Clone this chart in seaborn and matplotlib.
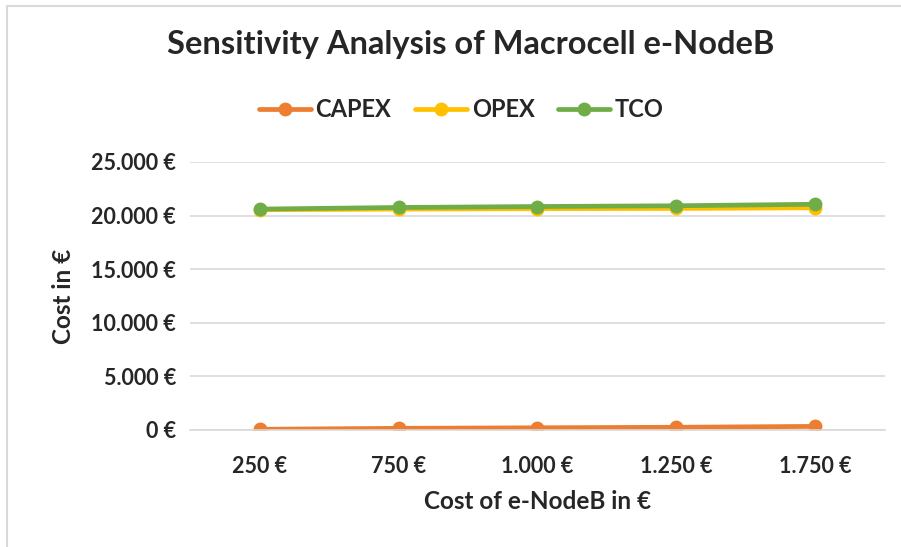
import pandas as pd
import matplotlib.pyplot as plt
import matplotlib.ticker as mticker
from matplotlib.lines import Line2D
import seaborn as sns

# data
enodeb_cost = ['250 €', '750 €', '1.000 €', '1.250 €', '1.750 €']
capex = [60, 150, 200, 250, 330]
opex = [20540, 20600, 20640, 20660, 20720]
tco = [20600, 20750, 20840, 20910, 21050]

series_names = ['CAPEX', 'OPEX', 'TCO']
colors = ['#ED7D31', '#FFC000', '#70AD47']

df = pd.DataFrame({
    'cost': enodeb_cost * 3,
    'value': capex + opex + tco,
    'series': [s for s in series_names for _ in enodeb_cost],
})

sns.set_style('white')
plt.rcParams['font.family'] = ['Lato', 'DejaVu Sans']
plt.rcParams['font.weight'] = 'bold'

fig = plt.figure(figsize=(9.01, 5.47), dpi=100)
ax = fig.add_axes([0.211, 0.214, 0.771, 0.490])

sns.lineplot(data=df, x='cost', y='value', hue='series', hue_order=series_names,
             palette=colors, marker='o', markersize=10, linewidth=3.4,
             markeredgewidth=0, sort=False, ax=ax)

ax.set_xlim(-0.5, 4.5)
ax.set_ylim(0, 25000)
ax.set_yticks(range(0, 25001, 5000))
ax.yaxis.set_major_formatter(mticker.FuncFormatter(
    lambda v, p: '{:,.0f} €'.format(v).replace(',', '.')))
ax.grid(axis='y', color='#D9D9D9', linewidth=1.2)
for side in ['top', 'right', 'left']:
    ax.spines[side].set_visible(False)
ax.spines['bottom'].set_color('#D9D9D9')
ax.spines['bottom'].set_linewidth(1.2)
ax.tick_params(axis='both', length=0, labelsize=15.5)
ax.tick_params(axis='y', pad=10)
ax.tick_params(axis='x', pad=19)
for lab in ax.get_xticklabels() + ax.get_yticklabels():
    lab.set_fontweight('bold')

ax.set_xlabel('Cost of e-NodeB in €', fontsize=17.5, fontweight='bold', labelpad=9)
ax.set_ylabel('Cost in €', fontsize=17.5, fontweight='bold', labelpad=12)

handles, labels = ax.get_legend_handles_labels()
ax.get_legend().remove()
fig.legend(handles, labels, loc='center', bbox_to_anchor=(0.512, 0.799), ncol=3,
           frameon=False, handlelength=2.2, columnspacing=1.0,
           handletextpad=0.2, prop={'weight': 'bold', 'size': 17})

fig.text(0.522, 0.918, 'Sensitivity Analysis of Macrocell e-NodeB', ha='center',
         va='center', fontsize=23.5, fontweight='bold')

# chart border (only top and left edges visible in the screenshot)
fig.lines.append(Line2D([0.008, 1.0], [0.989, 0.989], transform=fig.transFigure,
                        color='#D9D9D9', linewidth=1.5))
fig.lines.append(Line2D([0.008, 0.008], [0.0, 0.989], transform=fig.transFigure,
                        color='#D9D9D9', linewidth=1.5))

fig.savefig('out.png', dpi=100)
